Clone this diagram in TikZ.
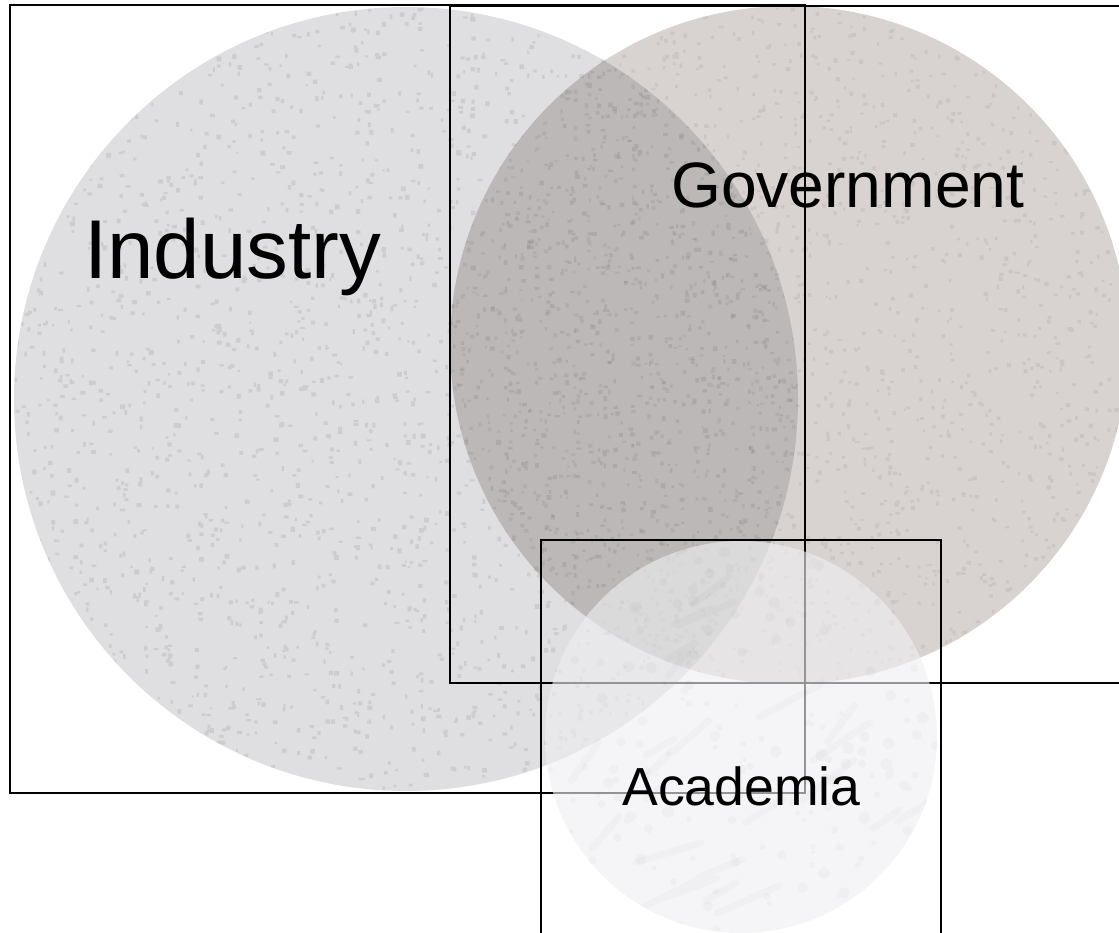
\documentclass[tikz,border=0pt]{standalone}
\usepackage{fontspec}
\setmainfont{Liberation Sans}
\usetikzlibrary{calc}
\newcommand{\ri}{392}
\newcommand{\rg}{339}
\newcommand{\ra}{196}
\definecolor{indfill}{HTML}{DFDFE2}
\definecolor{govfill}{HTML}{D8D3D0}
\definecolor{acafill}{HTML}{EFEFF2}
\tikzset{
  frame/.style={draw=black,line width=0.8pt},
  lbl/.style={inner sep=0pt,anchor=base west,text=black},
  grain/.style={fill=black,opacity=.08}
}

\begin{document}
\begin{tikzpicture}[x=0.02cm,y=-0.02cm]
  \useasboundingbox (0,0) rectangle (1119,933);
  \clip (0,0) rectangle (1119,933);
  \pgfmathsetseed{42}
  \coordinate (ci) at (406,399);
  \coordinate (cg) at (789,345);
  \coordinate (ca) at (741,737);
  % industry disc, its box and label
  \fill[indfill] (ci) circle (\ri);
  \begin{scope}
    \clip (ci) circle (\ri);
    \fill[grain] foreach \k in {1,...,2600}{
      ({406+(rnd-.5)*786},{399+(rnd-.5)*786}) rectangle ++({2+3*rnd},{2+3*rnd}) };
  \end{scope}
  \draw[frame] (10,5) rectangle (805,793);
  \node[lbl,font=\fontsize{47.5}{56}\selectfont] (ind) at (84,278) {Industry};
  % government disc, multiplied over the first one
  \begin{scope}[blend mode=multiply]
    \fill[govfill] (cg) circle (\rg);
    \clip (cg) circle (\rg);
    \fill[grain,opacity=.06] foreach \k in {1,...,2000}{
      ({789+(rnd-.5)*678},{345+(rnd-.5)*678}) rectangle ++({2+2.5*rnd},{2+2.5*rnd}) };
  \end{scope}
  \draw[frame] (450,6) rectangle (1135,683);
  \node[lbl,font=\fontsize{36.5}{44}\selectfont] (gov) at (671,207) {Government};
  % academia disc sits on top, half see-through
  \fill[acafill,opacity=.62] (ca) circle (\ra);
  \begin{scope}
    \clip (ca) circle (\ra);
    \draw[black,opacity=.02,line width=4pt,line cap=round] foreach \k in {1,...,30}{
      ({741+(rnd-.5)*392},{737+(rnd-.5)*392}) -- ++({20+50*rnd},{-15-25*rnd}) };
    \fill[black,opacity=.025] foreach \k in {1,...,200}{
      ({741+(rnd-.5)*392},{737+(rnd-.5)*392}) circle ({2+4*rnd}) };
  \end{scope}
  \draw[frame] (541,540) rectangle (941,950);
  \node[lbl,font=\fontsize{30.5}{38}\selectfont] (aca) at (622,805) {Academia};
\end{tikzpicture}
\end{document}
